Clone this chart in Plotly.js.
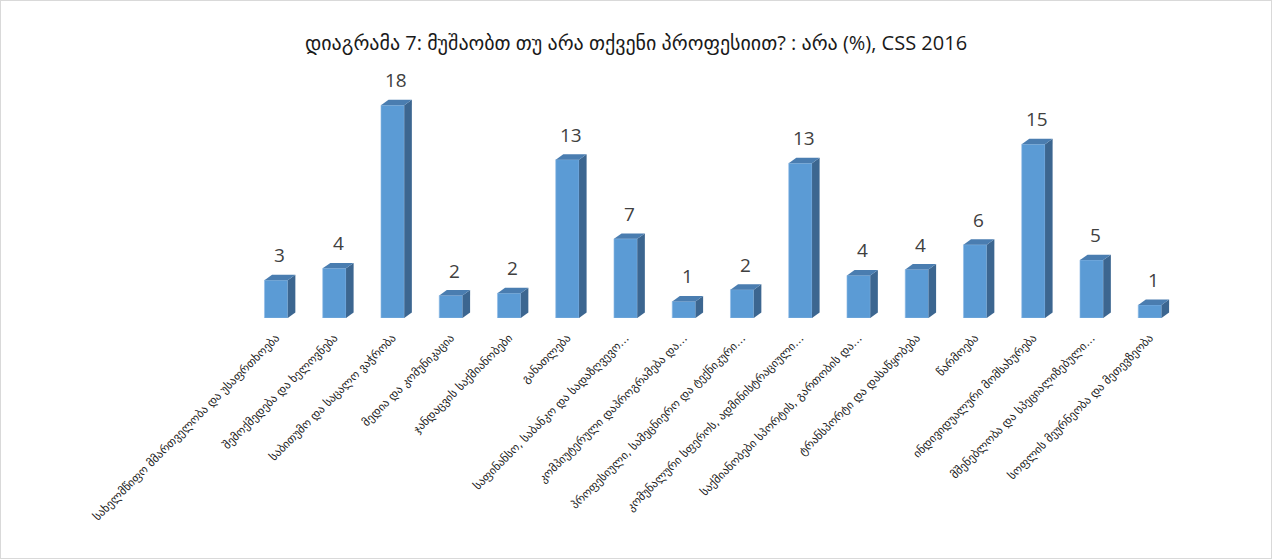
<!DOCTYPE html>
<html>
<head>
<meta charset="utf-8">
<script src="https://cdn.plot.ly/plotly-3.0.1.min.js"></script>
<style>
  html, body { margin: 0; padding: 0; background: #fff; }
  #chart { width: 1270px; height: 557px; border: 1px solid #d9d9d9; }
</style>
</head>
<body>
<div id="chart"></div>
<script>
const categories = [
  "სახელმწიფო მმართველობა და უსაფრთხოება",
  "შემოქმედება და ხელოვნება",
  "საბითუმო და საცალო ვაჭრობა",
  "მედია და კომუნიკაცია",
  "ჯანდაცვის საქმიანობები",
  "განათლება",
  "საფინანსო, საბანკო და სადაზღვევო…",
  "კომპიუტერული დაპროგრამება და…",
  "პროფესიული, სამეცნიერო და ტექნიკური…",
  "კომუნალური სფეროს, ადმინისტრაციული…",
  "საქმიანობები სპორტის, გართობის და…",
  "ტრანსპორტი და დასაწყობება",
  "წარმოება",
  "ინდივიდუალური მომსახურება",
  "მშენებლობა და სპეციალიზებული…",
  "სოფლის მეურნეობა და მეთევზეობა"
];
const values = [3.2, 4.2, 18.0, 1.9, 2.1, 13.4, 6.7, 1.4, 2.4, 13.1, 3.6, 4.1, 6.2, 14.7, 4.9, 1.1];
const valueLabels = ["3", "4", "18", "2", "2", "13", "7", "1", "2", "13", "4", "4", "6", "15", "5", "1"];
const titleText = "დიაგრამა 7: მუშაობთ თუ არა თქვენი პროფესიით? : არა (%), CSS 2016";

const xs = categories.map((c, i) => i);
const barW = 0.40, dx = 0.13, dy = 0.46;
const shapes = [];
const annotations = [];
values.forEach((v, i) => {
  const x0 = i - barW / 2, x1 = i + barW / 2;
  shapes.push({
    type: "path", xref: "x", yref: "y", layer: "above",
    path: `M ${x1},0 L ${x1 + dx},${dy} L ${x1 + dx},${v + dy} L ${x1},${v} Z`,
    fillcolor: "#3c6690", line: { width: 0 }
  });
  shapes.push({
    type: "path", xref: "x", yref: "y", layer: "above",
    path: `M ${x0},${v} L ${x0 + dx},${v + dy} L ${x1 + dx},${v + dy} L ${x1},${v} Z`,
    fillcolor: "#4a7db0", line: { width: 0 }
  });
  annotations.push({
    x: i + dx / 2, y: v, xref: "x", yref: "y", text: valueLabels[i],
    showarrow: false, yshift: 25, yanchor: "middle",
    font: { family: "Open Sans, DejaVu Sans, sans-serif", size: 19, color: "#404040" }
  });
});

const data = [{
  type: "bar", x: xs, y: values, width: barW,
  marker: { color: "#5b9bd5", line: { width: 0.6, color: "#8fbbe6" } },
  hoverinfo: "skip"
}];

const layout = {
  width: 1270, height: 557,
  margin: { l: 246, r: 92, t: 57, b: 240 },
  paper_bgcolor: "#ffffff", plot_bgcolor: "#ffffff",
  title: {
    text: titleText, x: 0.5, xanchor: "center", y: 1 - 42 / 557, yanchor: "middle", yref: "container",
    font: { family: "Open Sans, DejaVu Sans, sans-serif", size: 20, color: "#1a1a1a" }
  },
  xaxis: {
    range: [-0.5, 15.5], tickvals: xs, ticktext: categories, tickangle: -45,
    showgrid: false, zeroline: false, showline: false, ticks: "", automargin: false,
    ticklabelstandoff: 10,
    tickfont: { family: "DejaVu Sans, sans-serif", size: 11.5, color: "#222" }
  },
  yaxis: { range: [0, 22], visible: false, showgrid: false, zeroline: false },
  shapes: shapes, annotations: annotations, showlegend: false, bargap: 0
};
Plotly.newPlot("chart", data, layout, { displayModeBar: false, staticPlot: true });
</script>
</body>
</html>
